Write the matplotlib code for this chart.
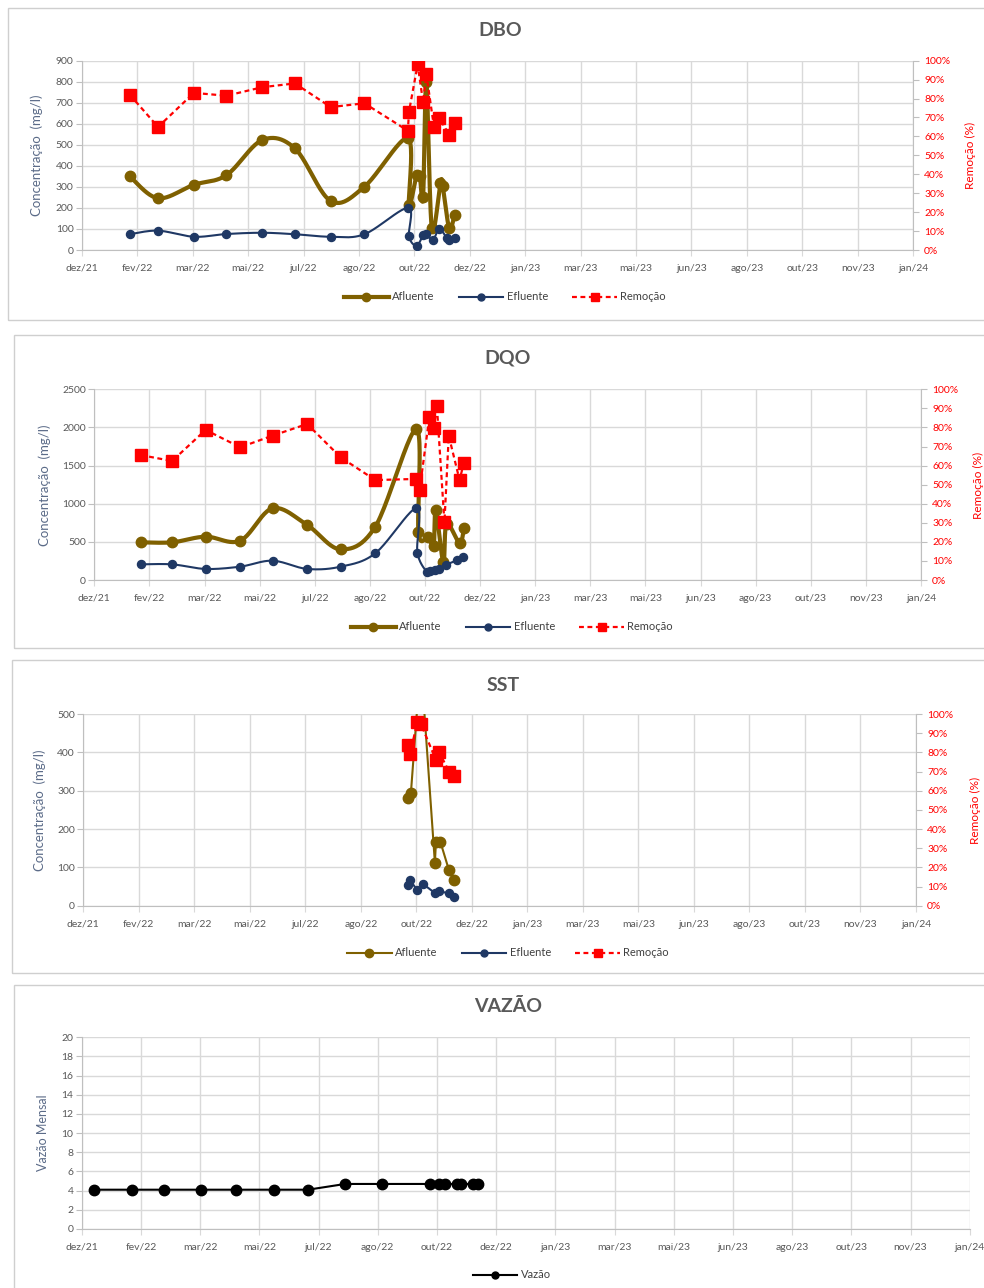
import numpy as np
import matplotlib
matplotlib.use('Agg')
import matplotlib.pyplot as plt
import matplotlib.dates as mdates
from matplotlib.patches import Rectangle
from matplotlib.lines import Line2D

plt.rcParams['font.family'] = ['Lato', 'DejaVu Sans']

# ---------------- data ----------------
x_tick_labels = ['dez/21', 'fev/22', 'mar/22', 'mai/22', 'jul/22', 'ago/22', 'out/22', 'dez/22',
                 'jan/23', 'mar/23', 'mai/23', 'jun/23', 'ago/23', 'out/23', 'nov/23', 'jan/24']
x_axis_start = '2021-12-15'
x_tick_step_days = 51

# DBO
dbo_afl_dates = ['2022-01-28', '2022-02-23', '2022-03-28', '2022-04-27', '2022-05-30', '2022-06-29',
                 '2022-08-01', '2022-09-01', '2022-10-11', '2022-10-12', '2022-10-19', '2022-10-22',
                 '2022-10-25', '2022-10-28', '2022-11-02', '2022-11-10', '2022-11-12', '2022-11-18',
                 '2022-11-23']
dbo_afl = [350, 246, 310, 356, 523, 483, 233, 301, 531, 215, 357, 350, 250, 800, 105, 317, 305, 105, 165]
dbo_efl_dates = ['2022-01-28', '2022-02-23', '2022-03-28', '2022-04-27', '2022-05-30', '2022-06-29',
                 '2022-08-01', '2022-09-01', '2022-10-11', '2022-10-12', '2022-10-19', '2022-10-25',
                 '2022-10-28', '2022-11-03', '2022-11-09', '2022-11-16', '2022-11-18', '2022-11-23']
dbo_efl = [75, 92, 63, 76, 82, 75, 63, 75, 200, 65, 20, 70, 75, 48, 100, 55, 48, 55]
dbo_rem_dates = ['2022-01-28', '2022-02-23', '2022-03-28', '2022-04-27', '2022-05-30', '2022-06-29',
                 '2022-08-01', '2022-09-01', '2022-10-11', '2022-10-12', '2022-10-20', '2022-10-25',
                 '2022-10-28', '2022-11-04', '2022-11-09', '2022-11-18', '2022-11-23']
dbo_rem = [82, 65, 83, 81.5, 86, 88, 75.5, 77.5, 63, 73, 98, 78, 93, 65, 69.5, 61, 67]

# DQO
dqo_afl_dates = ['2022-01-27', '2022-02-25', '2022-03-28', '2022-04-29', '2022-05-29', '2022-06-30',
                 '2022-07-31', '2022-09-01', '2022-10-09', '2022-10-11', '2022-10-20', '2022-10-25',
                 '2022-10-27', '2022-11-03', '2022-11-06', '2022-11-18', '2022-11-22']
dqo_afl = [494, 494, 568, 515, 940, 721, 402, 699, 1975, 625, 560, 445, 918, 230, 740, 485, 678]
dqo_efl_dates = ['2022-01-27', '2022-02-25', '2022-03-28', '2022-04-29', '2022-05-29', '2022-06-30',
                 '2022-07-31', '2022-09-01', '2022-10-09', '2022-10-10', '2022-10-19', '2022-10-22',
                 '2022-10-26', '2022-10-30', '2022-11-05', '2022-11-16', '2022-11-21']
dqo_efl = [205, 205, 145, 175, 253, 145, 175, 350, 940, 358, 100, 120, 130, 150, 197, 262, 305]
dqo_rem_dates = ['2022-01-27', '2022-02-25', '2022-03-28', '2022-04-29', '2022-05-29', '2022-06-30',
                 '2022-07-31', '2022-09-01', '2022-10-09', '2022-10-12', '2022-10-21', '2022-10-25',
                 '2022-10-28', '2022-11-04', '2022-11-08', '2022-11-18', '2022-11-22']
dqo_rem = [65.5, 62.4, 78.7, 69.6, 75.7, 81.8, 64.3, 52.4, 53, 47, 85.3, 79.5, 91.4, 30.2, 75.7, 52.4, 61.5]

# SST
sst_afl_dates = ['2022-10-09', '2022-10-12', '2022-10-21', '2022-11-03', '2022-11-04', '2022-11-08',
                 '2022-11-16', '2022-11-21']
sst_afl = [280, 295, 640, 112, 167, 167, 92, 67]
sst_efl_dates = ['2022-10-09', '2022-10-11', '2022-10-18', '2022-10-23', '2022-11-03', '2022-11-07',
                 '2022-11-16', '2022-11-21']
sst_efl = [55, 67, 40, 57, 33, 38, 32, 22]
sst_rem_dates = ['2022-10-09', '2022-10-11', '2022-10-18', '2022-10-21', '2022-11-04', '2022-11-07',
                 '2022-11-16', '2022-11-21']
sst_rem = [84, 79, 96, 95, 76, 80, 70, 67.5]

# VAZÃO
vaz_dates = ['2021-12-26', '2022-01-27', '2022-02-24', '2022-03-28', '2022-04-27', '2022-05-30',
             '2022-06-28', '2022-07-30', '2022-08-31', '2022-10-11', '2022-10-19', '2022-10-24',
             '2022-11-03', '2022-11-07', '2022-11-17', '2022-11-21']
vaz = [4.1, 4.1, 4.1, 4.1, 4.1, 4.1, 4.1, 4.7, 4.7, 4.7, 4.7, 4.7, 4.7, 4.7, 4.7, 4.7]

# ---------------- style ----------------
W, H = 984, 1288
fig = plt.figure(figsize=(W / 100, H / 100), dpi=100)

C_AFL = '#7F6000'
C_EFL = '#1F3864'
C_REM = '#FF0000'
C_GRID = '#D9D9D9'
C_TXT = '#595959'
C_YLAB = '#5B6B88'
TICK_FS = 7.5
LEG_FS = 8

x0 = mdates.datestr2num(x_axis_start)
x_ticks = x0 + np.arange(len(x_tick_labels)) * x_tick_step_days


def d(lst):
    return mdates.datestr2num(lst)


def add_axes(left, top, right, bottom):
    return fig.add_axes([left / W, 1 - bottom / H, (right - left) / W, (bottom - top) / H])


def base_setup(ax, ymax, ystep):
    ax.set_xlim(x_ticks[0], x_ticks[-1])
    ax.set_ylim(0, ymax)
    ax.set_xticks(x_ticks)
    ax.set_xticklabels(x_tick_labels)
    ax.set_yticks(np.arange(0, ymax + ystep / 2, ystep))
    ax.grid(True, color=C_GRID, lw=1.0)
    ax.set_axisbelow(True)
    for s in ['top', 'right']:
        ax.spines[s].set_visible(False)
    for s in ['left', 'bottom']:
        ax.spines[s].set_color('#BFBFBF')
    ax.tick_params(axis='x', length=4, color=C_GRID, labelcolor=C_TXT, labelsize=TICK_FS, pad=6)
    ax.tick_params(axis='y', length=4, color='#BFBFBF', labelcolor=C_TXT, labelsize=TICK_FS, pad=2)


def smooth(ax, xs, ys, n=24):
    pts = ax.transData.transform(np.column_stack([xs, ys]))
    P = np.vstack([pts[0], pts, pts[-1]])
    out = []
    t = np.linspace(0, 1, n, endpoint=False)[:, None]
    for i in range(1, len(P) - 2):
        p0, p1, p2, p3 = P[i - 1], P[i], P[i + 1], P[i + 2]
        c1 = p1 + (p2 - p0) / 6.0
        c2 = p2 - (p3 - p1) / 6.0
        seg = ((1 - t) ** 3) * p1 + 3 * ((1 - t) ** 2) * t * c1 + 3 * (1 - t) * t ** 2 * c2 + t ** 3 * p2
        out.append(seg)
    out.append(pts[-1][None, :])
    out = np.vstack(out)
    return ax.transData.inverted().transform(out).T


def rem_axis(ax):
    ax2 = ax.twinx()
    ax2.set_ylim(0, 100)
    ax2.set_yticks(np.arange(0, 101, 10))
    ax2.set_yticklabels([f'{v}%' for v in range(0, 101, 10)])
    for s in ['top', 'left', 'bottom']:
        ax2.spines[s].set_visible(False)
    ax2.spines['right'].set_color('#BFBFBF')
    ax2.tick_params(axis='y', length=4, color='#BFBFBF', labelcolor=C_REM, labelsize=TICK_FS, pad=4)
    return ax2


def panel_box(left, top, right, bottom):
    fig.patches.append(Rectangle((left / W, 1 - bottom / H), (right - left) / W, (bottom - top) / H,
                                 transform=fig.transFigure, fill=False, ec='#CFCFCF', lw=1.0))


def title(text, cx, cy):
    fig.text(cx / W, 1 - cy / H, text, ha='center', va='center', fontsize=14,
             fontweight='bold', color=C_TXT)


def ylab(text, cx, cy, color, fs=8):
    fig.text(cx / W, 1 - cy / H, text, ha='center', va='center', rotation=90,
             fontsize=fs, color=color)


def legend(handles, labels, cx, cy):
    fig.legend(handles, labels, loc='center', bbox_to_anchor=(cx / W, 1 - cy / H), ncol=len(handles),
               frameon=False, fontsize=LEG_FS, handlelength=4.0, handletextpad=0.3,
               columnspacing=2.2, labelcolor='#404040')


def conc_panel(box, axbox, ttl, tpos, ymax, ystep, afl_d, afl, efl_d, efl, rem_d, rem,
               ylpos, yrpos, legpos, smooth_lines, afl_lw, efl_lw):
    panel_box(*box)
    title(ttl, *tpos)
    ax = add_axes(*axbox)
    base_setup(ax, ymax, ystep)
    xa, xe = d(afl_d), d(efl_d)
    if smooth_lines:
        sx, sy = smooth(ax, xa, afl)
        ax.plot(sx, sy, color=C_AFL, lw=afl_lw, solid_capstyle='round', zorder=3)
        sx, sy = smooth(ax, xe, efl)
        ax.plot(sx, sy, color=C_EFL, lw=efl_lw, solid_capstyle='round', zorder=4)
    else:
        ax.plot(xa, afl, color=C_AFL, lw=afl_lw, zorder=3)
        ax.plot(xe, efl, color=C_EFL, lw=efl_lw, zorder=4)
    ax.plot(xa, afl, 'o', color=C_AFL, ms=7.5, zorder=3)
    ax.plot(xe, efl, 'o', color=C_EFL, ms=5.8, zorder=4)
    ax2 = rem_axis(ax)
    ax2.plot(d(rem_d), rem, color=C_REM, lw=1.6, ls=(0, (2.2, 1.6)), marker='s', ms=8.5, zorder=5)
    ylab('Concentração  (mg/l)', *ylpos, C_YLAB, 9.5)
    ylab('Remoção (%)', *yrpos, C_REM, 8.5)
    h = [Line2D([], [], color=C_AFL, lw=afl_lw, marker='o', ms=6),
         Line2D([], [], color=C_EFL, lw=efl_lw, marker='o', ms=5),
         Line2D([], [], color=C_REM, lw=1.6, ls=(0, (2.2, 1.6)), marker='s', ms=6)]
    legend(h, ['Afluente', 'Efluente', 'Remoção'], *legpos)


conc_panel((8, 8, 992, 320), (82, 60.7, 913, 250), 'DBO', (500, 30), 900, 100,
           dbo_afl_dates, dbo_afl, dbo_efl_dates, dbo_efl, dbo_rem_dates, dbo_rem,
           (37, 155), (970, 155), (505, 297), True, 3.0, 1.5)

conc_panel((14, 335, 992, 648), (94.3, 389.3, 921, 580), 'DQO', (508, 358), 2500, 500,
           dqo_afl_dates, dqo_afl, dqo_efl_dates, dqo_efl, dqo_rem_dates, dqo_rem,
           (45, 485), (978, 485), (512, 627), True, 3.0, 1.5)

conc_panel((12, 660, 992, 973), (83.3, 714, 916, 905.7), 'SST', (503, 685), 500, 100,
           sst_afl_dates, sst_afl, sst_efl_dates, sst_efl, sst_rem_dates, sst_rem,
           (40, 810), (975, 810), (508, 953), False, 1.5, 1.5)

# VAZÃO panel
panel_box(14, 985, 992, 1300)
title('VAZÃO', 508, 1006)
axv = add_axes(81.7, 1037.3, 969.7, 1229)
base_setup(axv, 20, 2)
axv.plot(d(vaz_dates), vaz, color='black', lw=1.5, marker='o', ms=7.5, zorder=3)
ylab('Vazão Mensal', 43, 1133, C_YLAB, 9)
legend([Line2D([], [], color='black', lw=1.5, marker='o', ms=5)], ['Vazão'], 512, 1275)

fig.savefig('out.png', dpi=100)
